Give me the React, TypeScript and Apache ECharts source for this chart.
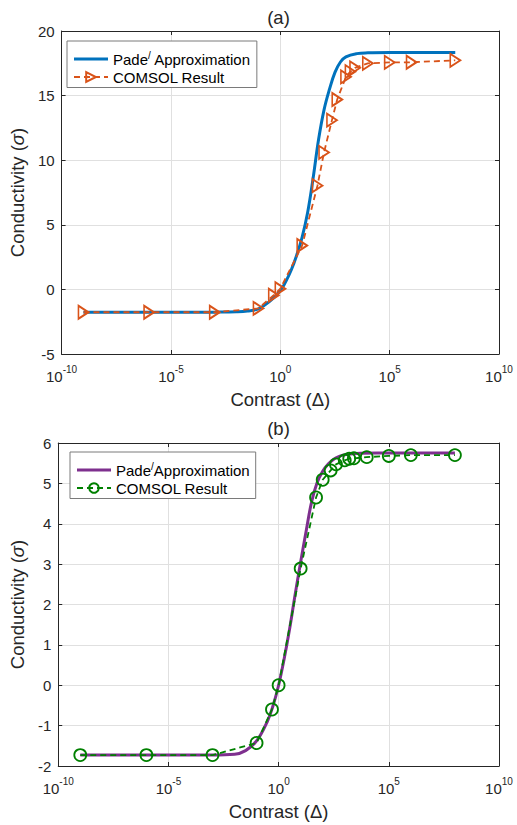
import { useEffect, useRef } from "react";
import * as echarts from "echarts";

const FONT = "'Liberation Sans', Arial, Helvetica, sans-serif";

// x positions (contrast Δ) of the COMSOL samples
const comsolX = [1e-9, 1e-6, 1e-3, 0.1, 0.5, 1, 10, 50, 100, 230, 400, 1000, 1600, 2600, 1e4, 1e5, 1e6, 1e8];
// panel (a) COMSOL conductivity
const comsolA = [-1.77, -1.77, -1.77, -1.47, -0.45, 0.05, 3.4, 8.03, 10.6, 13.1, 14.7, 16.45, 16.85, 17.15, 17.5, 17.57, 17.58, 17.73];
// panel (b) COMSOL conductivity
const comsolB = [-1.73, -1.73, -1.73, -1.43, -0.6, 0.0, 2.89, 4.65, 5.09, 5.32, 5.47, 5.57, 5.61, 5.62, 5.65, 5.68, 5.7, 5.7];

// Pade approximation curve (a): log10(Δ) and value
const padeAExp = [-9, -4, -3, -2, -1.5, -1, -0.5, 0, 0.25, 0.5, 0.75, 1.0, 1.25, 1.5, 1.75, 2.0, 2.25, 2.5, 2.75, 3.0, 3.5, 4.0, 5.0, 8.0];
const padeAVal = [-1.77, -1.77, -1.76, -1.73, -1.67, -1.5, -0.95, -0.1, 0.6, 1.5, 2.65, 4.05, 5.95, 8.6, 11.6, 13.9, 15.5, 16.8, 17.6, 18.0, 18.25, 18.31, 18.33, 18.33];

// Pade approximation curve (b)
const padeBExp = [-9, -3, -2, -1.5, -1, -0.5, -0.25, 0, 0.25, 0.5, 0.75, 1.0, 1.25, 1.5, 1.75, 2.0, 2.25, 2.5, 2.75, 3.0, 3.5, 4.5, 8.0];
const padeBVal = [-1.73, -1.73, -1.71, -1.62, -1.38, -0.88, -0.5, 0.0, 0.65, 1.4, 2.25, 3.05, 3.82, 4.55, 5.02, 5.3, 5.48, 5.6, 5.67, 5.71, 5.74, 5.75, 5.75];

const yTicksA = { min: -5, max: 20, interval: 5 };
const yTicksB = { min: -2, max: 6, interval: 1 };

const AXIS = "#262626";
const GRIDC = "#e0e0e0";
const LINE_ICON = "path://M0,0H34V3.2H0Z";

function xAxisCfg(gridIndex: number, position: "bottom" | "top") {
  const main = position === "bottom";
  return {
    type: "log",
    logBase: 10,
    gridIndex,
    position,
    min: 1e-10,
    max: 1e10,
    interval: 5,
    axisLine: { show: true, onZero: false, lineStyle: { color: AXIS, width: 1 } },
    axisTick: { show: true, inside: true, length: 4, lineStyle: { color: AXIS } },
    minorTick: { show: false },
    minorSplitLine: { show: false },
    splitLine: { show: main, lineStyle: { color: GRIDC, width: 1 } },
    axisLabel: main
      ? {
          show: true,
          margin: 10,
          formatter: (v: number) => `{b|10}{s|${Math.round(Math.log10(v))}}`,
          rich: {
            b: { fontSize: 15, fontFamily: FONT, color: AXIS, lineHeight: 24 },
            s: { fontSize: 10, fontFamily: FONT, color: AXIS, lineHeight: 10, verticalAlign: "top" },
          },
        }
      : { show: false },
    name: main ? "Contrast (Δ)" : "",
    nameLocation: "middle",
    nameGap: 36,
    nameTextStyle: { fontSize: 18.5, fontFamily: FONT, color: AXIS },
  };
}

function yAxisCfg(gridIndex: number, position: "left" | "right", t: { min: number; max: number; interval: number }) {
  const main = position === "left";
  return {
    type: "value",
    gridIndex,
    position,
    min: t.min,
    max: t.max,
    interval: t.interval,
    axisLine: { show: true, onZero: false, lineStyle: { color: AXIS, width: 1 } },
    axisTick: { show: true, inside: true, length: 4, lineStyle: { color: AXIS } },
    splitLine: { show: main, lineStyle: { color: GRIDC, width: 1 } },
    axisLabel: main
      ? { show: true, margin: 7, fontSize: 15, fontFamily: FONT, color: AXIS }
      : { show: false },
    name: main ? "Conductivity ({i|σ})" : "",
    nameLocation: "middle",
    nameGap: 30,
    nameTextStyle: {
      fontSize: 18.5,
      fontFamily: FONT,
      color: AXIS,
      rich: { i: { fontSize: 18.5, fontFamily: FONT, fontStyle: "italic", color: AXIS } },
    },
  };
}

function legendCfg(pade: string, comsol: string, left: number, top: number) {
  return {
    data: [{ name: pade, icon: LINE_ICON }, { name: comsol }],
    left,
    top,
    orient: "vertical",
    selectedMode: false,
    backgroundColor: "#ffffff",
    borderColor: "#7a7a7a",
    borderWidth: 1,
    borderRadius: 0,
    padding: [9, 6, 3, 6],
    itemGap: 3,
    itemWidth: 34,
    itemHeight: 12,
    formatter: (name: string) => {
      if (name.startsWith("Pade/ ")) return "{t|Pade}{s|/}{t| Approximation}";
      if (name.startsWith("Pade/")) return "{t|Pade}{s|/}{t|Approximation}";
      return "{t|COMSOL Result}";
    },
    textStyle: {
      fontSize: 15,
      fontFamily: FONT,
      color: "#000000",
      rich: {
        t: { fontSize: 15, fontFamily: FONT, color: "#000000", lineHeight: 18 },
        s: { fontSize: 10, fontFamily: FONT, color: "#000000", lineHeight: 10, verticalAlign: "top" },
      },
    },
  };
}

export default function App() {
  const ref = useRef<HTMLDivElement>(null);

  useEffect(() => {
    if (!ref.current) return;
    const chart = echarts.init(ref.current, undefined, { renderer: "svg", width: 517, height: 825 });

    const padeA = padeAExp.map((e, i) => [Math.pow(10, e), padeAVal[i]]);
    const padeB = padeBExp.map((e, i) => [Math.pow(10, e), padeBVal[i]]);
    const compA = comsolX.map((x, i) => [x, comsolA[i]]);
    const compB = comsolX.map((x, i) => [x, comsolB[i]]);

    const option: any = {
      animation: false,
      backgroundColor: "#ffffff",
      grid: [
        { left: 58, right: 18, top: 31, height: 323, containLabel: false },
        { left: 58, right: 18, top: 443, height: 323, containLabel: false },
      ],
      xAxis: [xAxisCfg(0, "bottom"), xAxisCfg(0, "top"), xAxisCfg(1, "bottom"), xAxisCfg(1, "top")],
      yAxis: [
        yAxisCfg(0, "left", yTicksA),
        yAxisCfg(0, "right", yTicksA),
        yAxisCfg(1, "left", yTicksB),
        yAxisCfg(1, "right", yTicksB),
      ],
      legend: [
        legendCfg("Pade/ Approximation", "COMSOL Result (a)", 67, 41),
        legendCfg("Pade/Approximation", "COMSOL Result (b)", 70, 452),
      ],
      graphic: [
        {
          type: "text",
          x: 278.5,
          y: 17,
          style: { text: "(a)", fontSize: 18.5, fontFamily: FONT, fill: AXIS, align: "center", verticalAlign: "middle" },
        },
        {
          type: "text",
          x: 278.5,
          y: 428.5,
          style: { text: "(b)", fontSize: 18.5, fontFamily: FONT, fill: AXIS, align: "center", verticalAlign: "middle" },
        },
      ],
      series: [
        {
          name: "Pade/ Approximation",
          type: "line",
          xAxisIndex: 0,
          yAxisIndex: 0,
          data: padeA,
          showSymbol: false,
          symbol: "none",
          smooth: 0.4,
          lineStyle: { color: "#0072BD", width: 3 },
          itemStyle: { color: "#0072BD" },
          z: 2,
        },
        {
          name: "COMSOL Result (a)",
          type: "line",
          xAxisIndex: 0,
          yAxisIndex: 0,
          data: compA,
          symbol: "triangle",
          symbolSize: [13, 10],
          symbolRotate: -90,
          showAllSymbol: true,
          lineStyle: { color: "#D95319", width: 1.8, type: [6, 4] },
          itemStyle: { color: "rgba(0,0,0,0)", borderColor: "#D95319", borderWidth: 1.8 },
          z: 3,
        },
        {
          name: "Pade/Approximation",
          type: "line",
          xAxisIndex: 2,
          yAxisIndex: 2,
          data: padeB,
          showSymbol: false,
          symbol: "none",
          smooth: 0.4,
          lineStyle: { color: "#7E2F8E", width: 3 },
          itemStyle: { color: "#7E2F8E" },
          z: 2,
        },
        {
          name: "COMSOL Result (b)",
          type: "line",
          xAxisIndex: 2,
          yAxisIndex: 2,
          data: compB,
          symbol: "circle",
          symbolSize: 12,
          showAllSymbol: true,
          lineStyle: { color: "#008000", width: 1.8, type: [6, 4] },
          itemStyle: { color: "rgba(0,0,0,0)", borderColor: "#008000", borderWidth: 1.8 },
          z: 3,
        },
      ],
    };

    chart.setOption(option);
    return () => chart.dispose();
  }, []);

  return (
    <div
      ref={ref}
      style={{ position: "absolute", left: 0, top: 0, width: 517, height: 825, background: "#fff" }}
    />
  );
}
